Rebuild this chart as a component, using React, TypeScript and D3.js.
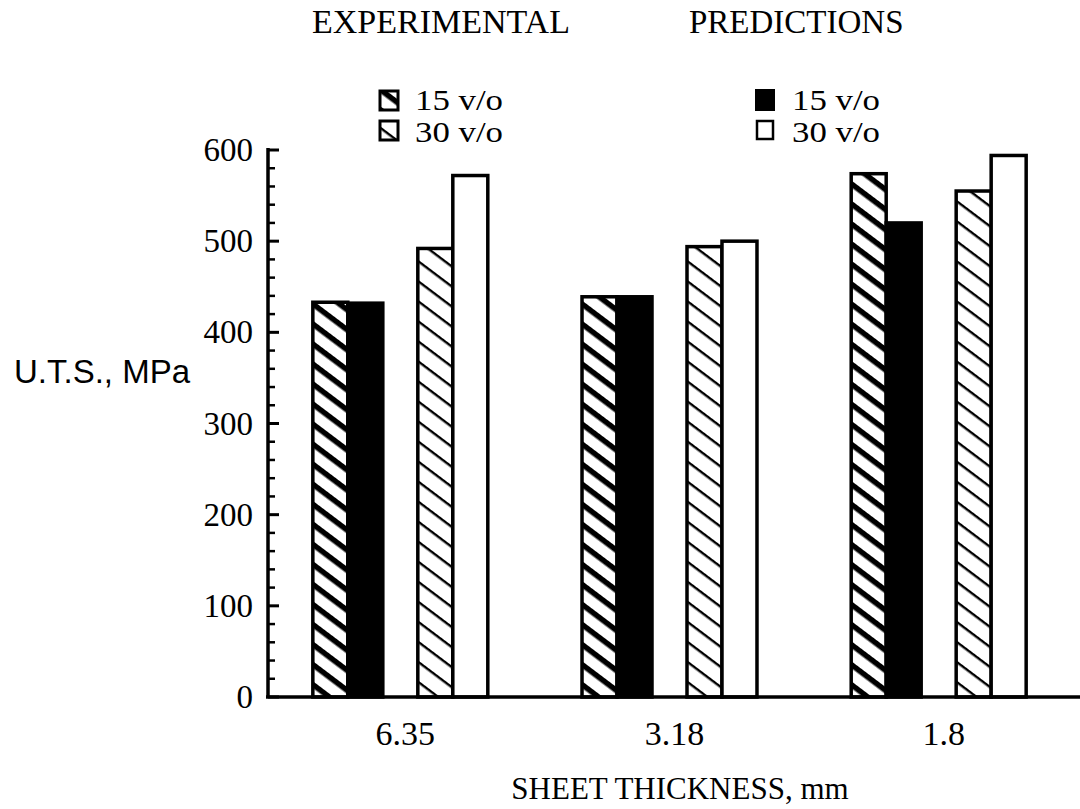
import React from "react";
import * as d3 from "d3";

const categories = ["6.35", "3.18", "1.8"];
const slots = ["exp15", "pred15", "gap", "exp30", "pred30"];
const exp15 = [433, 439, 574];
const pred15 = [432, 439, 520];
const exp30 = [492, 494, 555];
const pred30 = [572, 500, 594];
const yTicks = [0, 100, 200, 300, 400, 500, 600];

const seriesList = [
  { key: "exp15", values: exp15 },
  { key: "pred15", values: pred15 },
  { key: "exp30", values: exp30 },
  { key: "pred30", values: pred30 },
];

const fills: Record<string, string> = {
  exp15: "url(#hatch-thick)",
  pred15: "#000",
  exp30: "url(#hatch-thin)",
  pred30: "#fff",
};

const serif = "'Liberation Serif', 'Times New Roman', serif";
const sans = "'Liberation Sans', Arial, sans-serif";

export default function App() {
  const width = 1080;
  const height = 809;
  const axisX = 268;
  const baseY = 697;

  const y = d3.scaleLinear().domain([0, 600]).range([baseY, 150]);
  const x = d3
    .scaleBand<string>()
    .domain(categories)
    .range([259, 1080])
    .paddingInner(0.35)
    .paddingOuter(0.2);
  const inner = d3.scaleBand<string>().domain(slots).range([0, x.bandwidth()]);

  const minor = d3.range(0, 601, 20).filter((v) => v % 100 !== 0);

  return (
    <svg
      width={width}
      height={height}
      style={{ position: "absolute", left: 0, top: 0, background: "#fff" }}
    >
      <defs>
        <pattern
          id="hatch-thick"
          patternUnits="userSpaceOnUse"
          width={12}
          height={16}
          patternTransform="rotate(37)"
        >
          <rect width={12} height={16} fill="#fff" />
          <rect y={0} width={12} height={5.5} fill="#000" />
        </pattern>
        <pattern
          id="hatch-thin"
          patternUnits="userSpaceOnUse"
          width={12}
          height={16}
          patternTransform="rotate(37)"
        >
          <rect width={12} height={16} fill="#fff" />
          <rect y={0} width={12} height={2.4} fill="#000" />
        </pattern>
      </defs>

      {/* headers + legend */}
      <g fontFamily={serif} fill="#000">
        <text x={312} y={33} fontSize={34}>EXPERIMENTAL</text>
        <text x={689} y={33} fontSize={33}>PREDICTIONS</text>
        <g fontSize={29}>
          <text x={415} y={110} textLength={88} lengthAdjust="spacingAndGlyphs">15 v/o</text>
          <text x={415} y={142} textLength={88} lengthAdjust="spacingAndGlyphs">30 v/o</text>
          <text x={792} y={110} textLength={88} lengthAdjust="spacingAndGlyphs">15 v/o</text>
          <text x={792} y={142} textLength={88} lengthAdjust="spacingAndGlyphs">30 v/o</text>
        </g>
      </g>
      <rect x={380} y={91} width={18} height={19} fill={fills.exp15} stroke="#000" strokeWidth={3} />
      <rect x={380} y={121} width={18} height={19} fill={fills.exp30} stroke="#000" strokeWidth={3} />
      <rect x={756} y={90} width={18} height={20} fill="#000" stroke="#000" strokeWidth={2} />
      <rect x={757} y={121} width={16} height={18} fill="#fff" stroke="#000" strokeWidth={2.5} />

      {/* bars */}
      {categories.map((c, i) => (
        <g key={c} transform={`translate(${x(c)},0)`}>
          {seriesList.map((s) => (
            <rect
              key={s.key}
              x={inner(s.key)}
              y={y(s.values[i])}
              width={inner.bandwidth()}
              height={baseY - y(s.values[i])}
              fill={fills[s.key]}
              stroke="#000"
              strokeWidth={3.5}
            />
          ))}
        </g>
      ))}

      {/* y axis */}
      <line x1={axisX} x2={axisX} y1={y(600) - 2} y2={baseY} stroke="#000" strokeWidth={3.5} />
      {yTicks.map((t) => (
        <g key={t}>
          <line x1={axisX} x2={axisX + 11} y1={y(t)} y2={y(t)} stroke="#000" strokeWidth={3} />
          <text
            x={axisX - 15}
            y={y(t) + 11}
            textAnchor="end"
            fontFamily={serif}
            fontSize={33}
          >
            {t}
          </text>
        </g>
      ))}
      {minor.map((t) => (
        <line key={t} x1={axisX} x2={axisX + 7} y1={y(t)} y2={y(t)} stroke="#000" strokeWidth={2.5} />
      ))}

      {/* baseline */}
      <line x1={axisX - 2} x2={width} y1={baseY} y2={baseY} stroke="#000" strokeWidth={3.5} />

      {/* x labels */}
      {categories.map((c) => (
        <text
          key={c}
          x={(x(c) ?? 0) + x.bandwidth() / 2 + 5}
          y={745}
          textAnchor="middle"
          fontFamily={serif}
          fontSize={34}
        >
          {c}
        </text>
      ))}
      <text x={680} y={799} textAnchor="middle" fontFamily={serif} fontSize={31}>
        SHEET THICKNESS, mm
      </text>
      <text x={14} y={383} fontFamily={sans} fontSize={33}>
        U.T.S., MPa
      </text>
    </svg>
  );
}
